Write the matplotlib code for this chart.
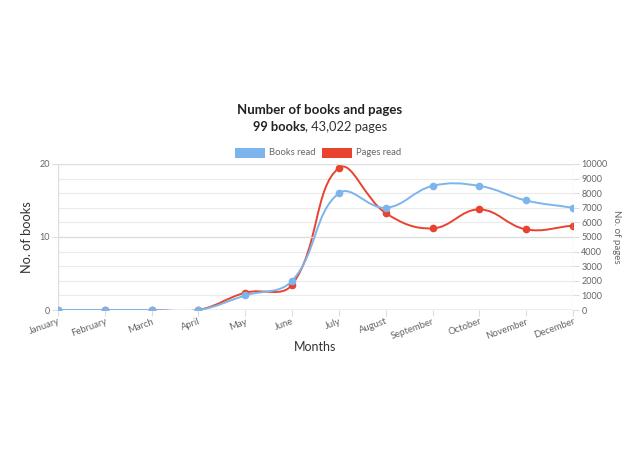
import numpy as np
import matplotlib
matplotlib.use("Agg")
import matplotlib.pyplot as plt
from matplotlib.path import Path
from matplotlib.patches import PathPatch, Rectangle

plt.rcParams['font.family'] = ['Lato', 'DejaVu Sans']

months = ["January", "February", "March", "April", "May", "June", "July",
          "August", "September", "October", "November", "December"]
books = [0, 0, 0, 0, 2, 4, 16, 14, 17, 17, 15, 14]
pages = [0, 0, 0, 0, 1185, 1735, 9730, 6640, 5590, 6890, 5520, 5780]

BLUE = "#7cb5ec"
RED = "#e8432f"
GRID = "#ebebeb"
TXT = "#666666"

fig = plt.figure(figsize=(6.4, 4.59), dpi=100)
ax = fig.add_axes([58/640, 1-310/459, (573-58)/640, (310-164)/459])
ax2 = ax.twinx()

x = np.arange(len(months))
ax.set_xlim(0, len(months)-1)
ax.set_ylim(0, 20)
ax2.set_ylim(0, 10000)

def spline_path(axis, xs, ys, t=0.4):
    pts = axis.transData.transform(np.column_stack([xs, ys]))
    n = len(pts)
    verts = [pts[0]]
    codes = [Path.MOVETO]
    cps = []
    for i in range(n):
        prev = pts[i-1] if i > 0 else pts[i]
        nxt = pts[i+1] if i < n-1 else pts[i]
        mid = pts[i]
        d01 = np.hypot(*(mid-prev))
        d12 = np.hypot(*(nxt-mid))
        s = d01 + d12
        s01 = d01/s if s else 0
        s12 = d12/s if s else 0
        cp_prev = mid - t*s01*(nxt-prev)
        cp_next = mid + t*s12*(nxt-prev)
        cps.append((cp_prev, cp_next))
    for i in range(1, n):
        verts += [cps[i-1][1], cps[i][0], pts[i]]
        codes += [Path.CURVE4]*3
    verts = axis.transData.inverted().transform(np.array(verts))
    return Path(verts, codes)

fig.canvas.draw()

# grid lines
for v in range(0, 10001, 1000):
    ax2.axhline(v, color=GRID, lw=0.8, zorder=0)
for v in [0, 10, 20]:
    ax.axhline(v, color="#dddddd", lw=0.9, zorder=0)
ax.axvline(0, color="#dddddd", lw=0.9)
ax.axvline(len(months)-1, color="#dddddd", lw=0.9)

p_red = spline_path(ax2, x, pages)
ax2.add_patch(PathPatch(p_red, fill=False, edgecolor=RED, lw=1.4, zorder=3))
ax2.plot(x, pages, 'o', color=RED, ms=4.5, zorder=4)

p_blue = spline_path(ax, x, books)
ax.add_patch(PathPatch(p_blue, fill=False, edgecolor=BLUE, lw=1.4, zorder=3))
ax.set_zorder(ax2.get_zorder()+1)
ax.patch.set_visible(False)
ax.plot(x, books, 'o', color=BLUE, ms=4.5, zorder=5)

ax.axhline(0, color="#bbbbbb", lw=1.0, zorder=2)

for a in (ax, ax2):
    for s in a.spines.values():
        s.set_visible(False)

ax.set_xticks(x)
ax.set_xticklabels(months, rotation=20, ha='right', rotation_mode='anchor',
                   fontsize=6.8, color=TXT)
ax.set_yticks([0, 10, 20])
ax.tick_params(axis='y', labelsize=6.5, labelcolor=TXT, color="#dddddd", length=4, pad=2)
ax.tick_params(axis='x', color="#dddddd", length=4, pad=1)
ax2.set_yticks(range(0, 10001, 1000))
ax2.tick_params(axis='y', labelsize=6.5, labelcolor=TXT, color="#dddddd", length=4, pad=2)

fig.text(315/640, 1-347/459, "Months", fontsize=9, color="#333333",
         ha='center', va='center')
fig.text(27/640, 1-237/459, "No. of books", fontsize=9.2, color="#333333",
         ha='center', va='center', rotation=90)
fig.text(617/640, 1-237/459, "No. of pages", fontsize=7, color=TXT,
         ha='center', va='center', rotation=-90)

fig.text(0.5, 1-110/459, "Number of books and pages", ha='center', va='center',
         fontsize=9.5, fontweight='bold', color="#222222")
r = fig.canvas.get_renderer()
tb = fig.text(0, 0, "99 books", fontsize=9.3, fontweight='bold', color="#222222")
tn = fig.text(0, 0, ", 43,022 pages", fontsize=9.3, color="#333333")
wb = tb.get_window_extent(r).width
wn = tn.get_window_extent(r).width
x0 = (640 - wb - wn) / 2
tb.set_position((x0/640, 1-127/459)); tb.set_va('center')
tn.set_position(((x0+wb)/640, 1-127/459)); tn.set_va('center')

# legend
ly = 1-153/459
fig.patches.append(Rectangle((235/640, ly-5/459), 30/640, 10/459, transform=fig.transFigure,
                             facecolor=BLUE, edgecolor='none'))
fig.text(269/640, ly, "Books read", fontsize=6.8, color=TXT, va='center')
fig.patches.append(Rectangle((322/640, ly-5/459), 30/640, 10/459, transform=fig.transFigure,
                             facecolor=RED, edgecolor='none'))
fig.text(356/640, ly, "Pages read", fontsize=6.8, color=TXT, va='center')

fig.savefig("out.png", dpi=100, facecolor="white")
